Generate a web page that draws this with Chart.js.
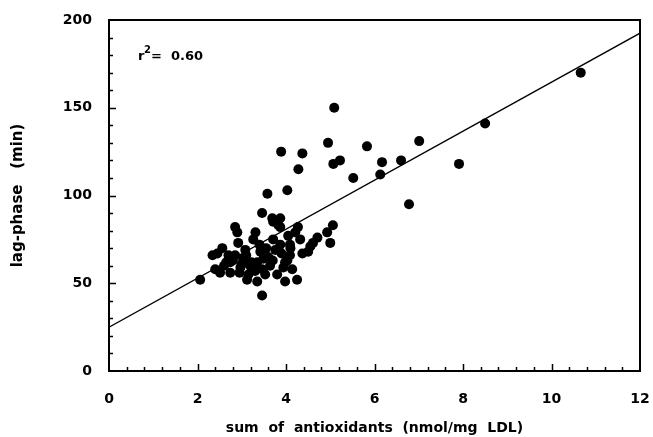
<!DOCTYPE html>
<html>
<head>
<meta charset="utf-8">
<script src="https://cdn.jsdelivr.net/npm/chart.js@4/dist/chart.umd.min.js"></script>
<style>
    html, body { margin: 0; padding: 0; background: #fff; overflow: hidden; }
    #wrap { position: relative; width: 653px; height: 437px; }
    canvas { display: block; }
</style>
</head>
<body>
<div id="wrap"><canvas id="grafico"></canvas></div>
<script>
// sum of antioxidants (nmol/mg LDL) and lag-phase (min)
const antioxidants = [
    10.66, 8.50, 7.91, 7.01, 6.78, 6.60, 6.17, 6.13, 5.83, 5.52,
    5.09, 4.95, 5.07, 5.22, 3.89, 4.37, 4.28, 3.58, 4.03, 3.46,
    3.69, 3.87, 3.71, 3.83, 2.85, 2.90, 4.27, 5.06, 4.93, 4.71,
    4.61, 5.00, 4.32, 4.50, 4.37, 4.25, 3.46, 2.06, 2.56, 2.45,
    2.51, 2.74, 3.35, 3.12, 3.26, 2.92, 3.87, 4.03, 3.94, 2.85,
    3.03, 3.42, 3.35, 2.74, 3.15, 3.53, 3.80, 3.98, 4.09, 3.87,
    3.71, 3.55, 3.08, 3.64, 3.19, 2.97, 3.46, 4.14, 3.98, 3.76,
    4.21, 4.05, 4.09, 3.31, 2.70, 3.49, 3.22, 2.65, 2.34, 4.55,
    2.40, 2.60, 3.00, 3.60, 3.30, 3.10, 2.80, 3.70, 3.90, 4.10,
    3.40, 2.95
];
const lagPhase = [
    170, 141, 118, 131, 95, 120, 119, 112, 128, 110,
    150, 130, 118, 120, 125, 124, 115, 101, 103, 90,
    87, 87, 85, 83, 82, 79, 82, 83, 79, 76,
    73, 73, 75, 68, 67, 52, 43, 52, 70, 67,
    56, 56, 51, 52, 75, 73, 82, 63, 59, 66,
    64, 68, 62, 62, 55, 55, 55, 62, 66, 72,
    75, 70, 69, 60, 60, 59, 58, 58, 51, 69,
    79, 77, 72, 79, 66, 64, 62, 62, 66, 71,
    58, 60, 61, 65, 57, 66, 63, 63, 67, 70,
    72, 56
];

// regression line ends
const fitX = [0, 12];
const fitY = [25, 192.5];
const rSquared = '0.60';

const xMin = 0, xMax = 12, xStep = 2, xMinorCount = 5;
const yMin = 0, yMax = 200, yStep = 50, yMinorCount = 5;

const boldFont = (size) => ({ family: 'DejaVu Sans', size: size, weight: 'bold' });

// frame, inward ticks and the r² note
const frameTicks = {
    id: 'frameTicks',
    afterDatasetsDraw(chart) {
        const { ctx, chartArea: a, scales: { x, y } } = chart;
        ctx.save();
        ctx.strokeStyle = '#000';
        ctx.lineWidth = 2;
        ctx.strokeRect(a.left, a.top, a.right - a.left, a.bottom - a.top);

        ctx.lineWidth = 1.5;
        ctx.beginPath();
        const nx = (xMax - xMin) / xStep * xMinorCount;
        for (let i = 1; i < nx; i++) {
            const px = Math.round(x.getPixelForValue(xMin + i * xStep / xMinorCount)) + 0.5;
            const len = i % xMinorCount === 0 ? 7 : 4;
            ctx.moveTo(px, a.bottom);
            ctx.lineTo(px, a.bottom - len);
        }
        const ny = (yMax - yMin) / yStep * yMinorCount;
        for (let i = 1; i < ny; i++) {
            const py = Math.round(y.getPixelForValue(yMin + i * yStep / yMinorCount)) + 0.5;
            const len = i % yMinorCount === 0 ? 7 : 4;
            ctx.moveTo(a.left, py);
            ctx.lineTo(a.left + len, py);
        }
        ctx.stroke();

        ctx.fillStyle = '#000';
        ctx.textBaseline = 'alphabetic';
        ctx.font = 'bold 13px "DejaVu Sans"';
        const tx = a.left + 29, ty = a.top + 40;
        ctx.fillText('r', tx, ty);
        ctx.font = 'bold 10px "DejaVu Sans"';
        ctx.fillText('2', tx + 6, ty - 7);
        ctx.font = 'bold 13px "DejaVu Sans"';
        ctx.fillText('=  ' + rSquared, tx + 13, ty);
        ctx.restore();
    }
};

document.addEventListener('DOMContentLoaded', function () {
    const ctx = document.getElementById('grafico').getContext('2d');

    const grafico = new Chart(ctx, {
        type: 'scatter',
        data: {
            datasets: [{
                label: 'lag-phase',
                data: antioxidants.map((v, i) => ({ x: v, y: lagPhase[i] })),
                backgroundColor: '#000',
                borderWidth: 0,
                pointRadius: 5
            }, {
                type: 'line',
                label: 'fit',
                data: fitX.map((v, i) => ({ x: v, y: fitY[i] })),
                borderColor: '#000',
                borderWidth: 1.3,
                pointRadius: 0,
                fill: false
            }]
        },
        options: {
            responsive: true,
            maintainAspectRatio: false,
            animation: false,
            layout: {
                padding: { top: 20, right: 13, left: 0, bottom: 0 }
            },
            plugins: {
                legend: { display: false },
                tooltip: { enabled: false }
            },
            scales: {
                x: {
                    type: 'linear',
                    min: xMin,
                    max: xMax,
                    grid: { display: false },
                    border: { display: false },
                    ticks: { stepSize: xStep, color: '#000', font: boldFont(14), padding: 12 },
                    title: {
                        display: true,
                        text: 'sum  of  antioxidants  (nmol/mg  LDL)',
                        color: '#000',
                        font: boldFont(14),
                        padding: { top: 0, bottom: 0 }
                    },
                    afterFit(scale) {
                        scale.height = 66;
                        scale.paddingLeft = 0;
                        scale.paddingRight = 0;
                    }
                },
                y: {
                    min: yMin,
                    max: yMax,
                    grid: { display: false },
                    border: { display: false },
                    ticks: { stepSize: yStep, color: '#000', font: boldFont(14), padding: 9 },
                    title: {
                        display: true,
                        text: 'lag-phase   (min)',
                        color: '#000',
                        font: boldFont(15),
                        padding: { top: 9, bottom: 0 }
                    },
                    afterFit(scale) { scale.width = 109; }
                }
            }
        },
        plugins: [frameTicks]
    });
});
</script>
</body>
</html>
